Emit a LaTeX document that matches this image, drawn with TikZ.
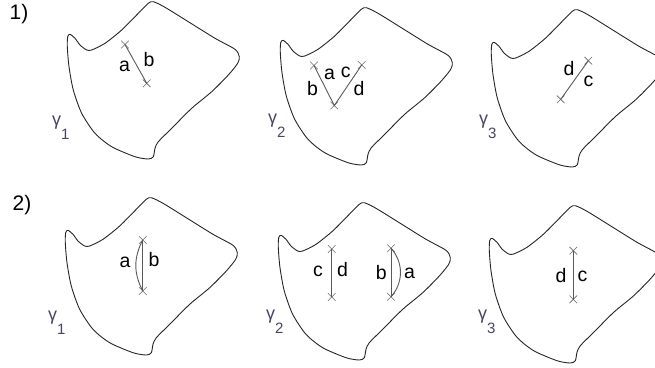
\documentclass[tikz,border=0pt]{standalone}
\usepackage{fontspec}
\setmainfont{Liberation Sans}
\usetikzlibrary{shapes.misc}
\definecolor{gamcol}{RGB}{70,70,100}
\newcommand{\gsub}[1]{γ\raisebox{-14pt}{\fontsize{15}{15}\selectfont #1}}
\tikzset{
  outline/.style={draw=black!85, line width=0.9pt},
  seg/.style={draw=black!65, line width=0.9pt},
  xmark/.style={draw=black!60, cross out, minimum size=7pt, inner sep=0pt, line width=0.6pt},
  lbl/.style={inner sep=0pt, font=\fontsize{19.5}{19.5}\selectfont},
  gam/.style={inner sep=0pt, anchor=base west, text=gamcol, font=\fontsize{18}{18}\selectfont},
  num/.style={inner sep=0pt, font=\fontsize{21}{21}\selectfont},
  region/.pic={
    \path[outline] plot[smooth cycle, tension=0.45] coordinates {
      (67.7,36.7) (70,34.3) (75,38.3) (80,45) (86.7,50) (91.7,50) (105,43.3)
      (121.7,30) (138.3,13.3) (148.3,3.3) (153.3,1.7) (165,7.3) (188.3,21.7)
      (215,38.3) (235,49.3) (239.3,56.7) (237.7,63.3) (228.3,75) (211.7,91.7)
      (191.7,108.3) (171.7,128.3) (158.3,141.7) (155,148.3) (153.3,156.7)
      (148.3,159) (135,156.7) (111.7,146.7) (95,133.3) (81.7,113.3) (73.3,90)
      (69,66.7) (67.3,46.7)};
  }
}
\begin{document}
\begin{tikzpicture}[x=1pt, y=-1pt]
    \clip (0,0) rectangle (655,367);

    % 1) regions
    \pic at (0,0) {region};
    \pic at (213,6) {region};
    \pic at (424,8) {region};
    \node[num] (one) at (19,14.5) {1)};
    \node[gam] (t1g) at (52,125) {\gsub{1}};
    \node[gam] (t2g) at (268,123) {\gsub{2}};
    \node[gam] (t3g) at (479,124) {\gsub{3}};

    \node[xmark] (t1p) at (125,44.5) {};
    \node[xmark] (t1q) at (146.7,83.3) {};
    \draw[seg] (t1p.center) -- (t1q.center);
    \node[lbl] (t1a) at (124.5,66) {a};
    \node[lbl] (t1b) at (149,59.3) {b};

    \node[xmark] (t2l) at (314,65.5) {};
    \node[xmark] (t2m) at (334.3,105.5) {};
    \node[xmark] (t2r) at (361.7,65) {};
    \draw[seg] (t2l.center) -- (t2m.center) -- (t2r.center);
    \node[lbl] (t2b) at (312.5,88.3) {b};
    \node[lbl] (t2a) at (329.5,74) {a};
    \node[lbl] (t2c) at (345.7,72) {c};
    \node[lbl] (t2d) at (359,88.3) {d};

    \node[xmark] (t3p) at (588.3,60.7) {};
    \node[xmark] (t3q) at (560.7,99.3) {};
    \draw[seg] (t3p.center) -- (t3q.center);
    \node[lbl] (t3d) at (569,68.3) {d};
    \node[lbl] (t3c) at (588.5,81.7) {c};

    % 2) regions
    \pic at (-2,196) {region};
    \pic at (211,201) {region};
    \pic at (422,204) {region};
    \node[num] (two) at (22,205) {2)};
    \node[gam] (b1g) at (48,320) {\gsub{1}};
    \node[gam] (b2g) at (266,319) {\gsub{2}};
    \node[gam] (b3g) at (478,319) {\gsub{3}};

    \node[xmark] (b1p) at (142.8,240) {};
    \node[xmark] (b1q) at (142.8,291) {};
    \draw[seg] (b1p.center) -- (b1q.center);
    \draw[seg] (b1p.center) to[bend right=28] (b1q.center);
    \node[lbl] (b1a) at (125,262) {a};
    \node[lbl] (b1b) at (154,260) {b};

    \node[xmark] (b2p) at (331.7,249) {};
    \node[xmark] (b2q) at (331.7,297) {};
    \draw[seg] (b2p.center) -- (b2q.center);
    \node[lbl] (b2c) at (318,271) {c};
    \node[lbl] (b2d) at (342.5,269.7) {d};

    \node[xmark] (b2s) at (391,248.3) {};
    \node[xmark] (b2t) at (391,296.7) {};
    \draw[seg] (b2s.center) -- (b2t.center);
    \draw[seg] (b2s.center) to[bend left=42] (b2t.center);
    \node[lbl] (b2bb) at (381.3,272.5) {b};
    \node[lbl] (b2aa) at (409.5,273.5) {a};

    \node[xmark] (b3p) at (573.3,250.7) {};
    \node[xmark] (b3q) at (573.3,299.3) {};
    \draw[seg] (b3p.center) -- (b3q.center);
    \node[lbl] (b3d) at (561,275.3) {d};
    \node[lbl] (b3c) at (582.5,276) {c};
\end{tikzpicture}
\end{document}
